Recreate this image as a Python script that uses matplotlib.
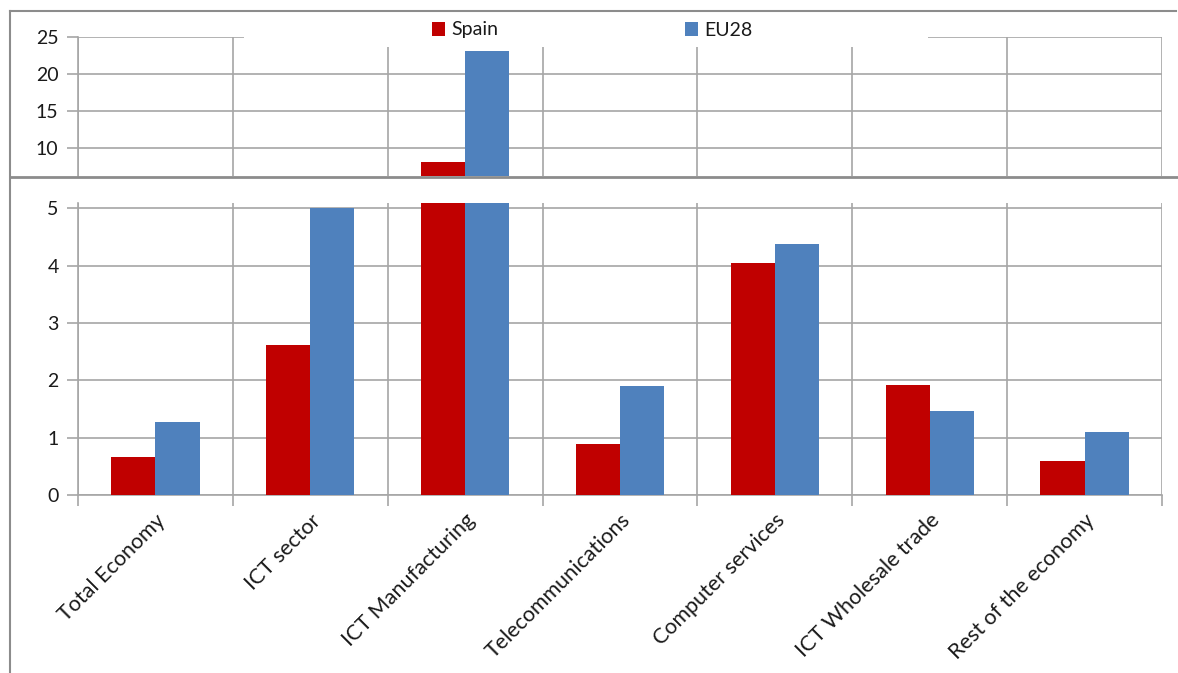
import numpy as np
import matplotlib
matplotlib.use("Agg")
import matplotlib.pyplot as plt
from matplotlib.patches import Rectangle
from matplotlib.lines import Line2D

plt.rcParams['font.family'] = ['Lato', 'DejaVu Sans']

################################################################################
# data
sectors = ["Total Economy", "ICT sector", "ICT Manufacturing",
           "Telecommunications", "Computer services",
           "ICT Wholesale trade", "Rest of the economy"]
spain = [0.66, 2.61, 8.1, 0.89, 4.04, 1.92, 0.59]
eu28  = [1.27, 5.0, 23.1, 1.90, 4.37, 1.46, 1.10]

################################################################################
# layout helpers (pixel boxes on a 1178x673 canvas)
W, H = 1178, 673
def box(x0, y0, x1, y1):
    return [x0 / W, (H - y1) / H, (x1 - x0) / W, (y1 - y0) / H]

grey   = "#a6a6a6"
red    = "#c00000"
blue   = "#4f81bd"
txt    = "#1a1a1a"
fs     = 14

fig = plt.figure(figsize=(W / 100, H / 100), dpi=100)
axTop = fig.add_axes(box(78, 37, 1162, 176.5))
axBot = fig.add_axes(box(78, 203, 1162, 495))

x = np.arange(len(sectors))
w = 0.285

for ax in (axTop, axBot):
    ax.bar(x - w / 2, spain, w, color=red, zorder=3, label="Spain")
    ax.bar(x + w / 2, eu28, w, color=blue, zorder=3, label="EU28")
    ax.set_xlim(-0.5, len(sectors) - 0.5)
    for s in ax.spines.values():
        s.set_visible(False)
    ax.spines['left'].set_visible(True)
    ax.spines['left'].set_color(grey)
    ax.spines['left'].set_linewidth(1.2)
    ax.set_xticks(np.arange(len(sectors) + 1) - 0.5, minor=True)
    ax.grid(True, which='major', axis='y', color=grey, lw=1.2, zorder=0)
    ax.grid(True, which='minor', axis='x', color=grey, lw=1.2, zorder=0)
    ax.tick_params(axis='y', length=8, width=1.2, color=grey, labelsize=fs,
                   labelcolor=txt, pad=6)
    ax.set_axisbelow(True)

# upper panel: only the tall bars reach here
axTop.set_ylim(6.2, 25)
axTop.set_yticks([10, 15, 20, 25])
axTop.tick_params(axis='x', which='both', length=0, labelbottom=False)

# lower panel
axBot.set_ylim(0, 5.09)
axBot.set_yticks(range(0, 6))
axBot.spines['bottom'].set_visible(True)
axBot.spines['bottom'].set_color(grey)
axBot.spines['bottom'].set_linewidth(1.2)
axBot.set_xticks(x)
axBot.set_xticklabels(sectors, rotation=45, ha='right', rotation_mode='anchor',
                      fontsize=15.5, color=txt)
axBot.tick_params(axis='x', which='major', length=0, pad=11)
axBot.tick_params(axis='x', which='minor', length=8, width=1.2, color=grey)

################################################################################
# legend sitting on a white patch over the top gridline
fig.add_artist(Rectangle((244 / W, (H - 47) / H), (928 - 244) / W, 30 / H,
                         transform=fig.transFigure, facecolor="white",
                         edgecolor="none", zorder=4))
handles, labels = axTop.get_legend_handles_labels()
leg = fig.legend(handles, labels, loc='center', ncol=2,
                 bbox_to_anchor=(592 / W, (H - 30) / H), frameon=False,
                 fontsize=fs, handlelength=0.7, handleheight=0.7,
                 handletextpad=0.3, columnspacing=9.6, labelcolor=txt)
leg.set_zorder(5)

################################################################################
# chart frames
frame = "#8c8c8c"
fig.add_artist(Line2D([10 / W, 1176 / W], [(H - 11) / H] * 2, color=frame, lw=1.5))
fig.add_artist(Line2D([10 / W, 10 / W], [0, (H - 11) / H], color=frame, lw=1.5))
fig.add_artist(Line2D([10 / W, 1.0], [(H - 177) / H] * 2, color=frame, lw=2))

fig.savefig("out.png", dpi=100)
